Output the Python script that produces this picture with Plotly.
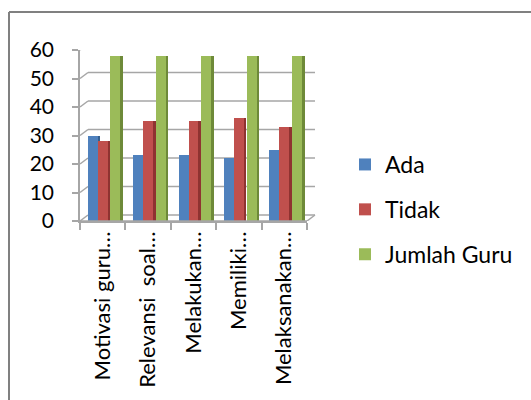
import plotly.graph_objects as go

# Survey results per teacher-behaviour item
categories = ["Motivasi guru…", "Relevansi  soal…", "Melakukan…", "Memiliki…", "Melaksanakan…"]
ada = [30, 23, 23, 22, 25]
tidak = [28, 35, 35, 36, 33]
jumlah_guru = [58, 58, 58, 58, 58]
y_ticks = [0, 10, 20, 30, 40, 50, 60]

W, H = 531, 400
ML, MR, MT, MB = 80, 224, 50, 179
PW, PH = W - ML - MR, H - MT - MB
DEPTH_X, DEPTH_Y = 8, 6          # pseudo-3D back-wall offset in px
FONT = "Lato"


def px_x(px):
    return (px - ML) / PW


def px_y(py):
    return (H - MB - py) / PH


series = [
    ("Ada", ada, "#4f81bd", "#35608f", -0.33),
    ("Tidak", tidak, "#c0504d", "#8f3331", -0.11),
    ("Jumlah Guru", jumlah_guru, "#9bbb59", "#6e8a39", 0.17),
]
FACE_W, SIDE_W = 0.22, 0.055

fig = go.Figure()
for name, vals, col, dark, off in series:
    fig.add_trace(go.Bar(
        x=categories, y=vals, name=name, legendgroup=name,
        marker=dict(color=col, line=dict(width=0)),
        offset=off, width=FACE_W,
    ))
    fig.add_trace(go.Bar(
        x=categories, y=vals, name=name, legendgroup=name, showlegend=False,
        marker=dict(color=dark, line=dict(width=0)),
        offset=off + FACE_W, width=SIDE_W,
    ))

shapes = []
grid = dict(color="#a6a6a6", width=1.5)
dxp = DEPTH_X / PW
dyv = DEPTH_Y * 60 / PH
for v in y_ticks:
    # diagonal from front axis to back wall, then back-wall gridline
    shapes.append(dict(type="line", xref="paper", yref="y",
                       x0=0, y0=v, x1=dxp, y1=v + dyv, line=grid, layer="below"))
    shapes.append(dict(type="line", xref="paper", yref="y",
                       x0=dxp, y0=v + dyv, x1=1 + dxp, y1=v + dyv,
                       line=grid, layer="below"))
# floor front edge and right diagonal
shapes.append(dict(type="line", xref="paper", yref="y", x0=0, y0=0, x1=1, y1=0, line=grid))
shapes.append(dict(type="line", xref="paper", yref="y", x0=1, y0=0,
                   x1=1 + dxp, y1=dyv, line=grid))
# outer chart frame (left and top edges)
frame = dict(color="#808080", width=2)
shapes.append(dict(type="line", xref="paper", yref="paper",
                   x0=px_x(9), y0=px_y(12), x1=px_x(9), y1=px_y(402), line=frame))
shapes.append(dict(type="line", xref="paper", yref="paper",
                   x0=px_x(9), y0=px_y(12), x1=px_x(535), y1=px_y(12), line=frame))

fig.update_layout(
    width=W, height=H,
    margin=dict(l=ML, r=MR, t=MT, b=MB, autoexpand=False),
    paper_bgcolor="white", plot_bgcolor="white",
    barmode="overlay", bargap=0,
    font=dict(family=FONT, size=21, color="black"),
    shapes=shapes,
    showlegend=True,
    legend=dict(x=px_x(345), y=px_y(143), xanchor="left", yanchor="top",
                font=dict(family=FONT, size=23, color="black"),
                tracegroupgap=12, bgcolor="rgba(0,0,0,0)"),
    xaxis=dict(type="category", categoryorder="array", categoryarray=categories,
               tickangle=-90, showgrid=False, zeroline=False,
               showline=True, linecolor="#a6a6a6", linewidth=1.5,
               ticks="outside", ticklen=7, tickcolor="#a6a6a6", tickwidth=1.5,
               tickson="boundaries", tickfont=dict(family=FONT, size=22)),
    yaxis=dict(range=[0, 60], tickvals=y_ticks, showgrid=False, zeroline=False,
               showline=True, linecolor="#a6a6a6", linewidth=1.5,
               ticks="outside", ticklen=6, tickcolor="#a6a6a6", tickwidth=1.5,
               ticklabelstandoff=14, tickfont=dict(family=FONT, size=21)),
)

fig.write_html("out.html")
